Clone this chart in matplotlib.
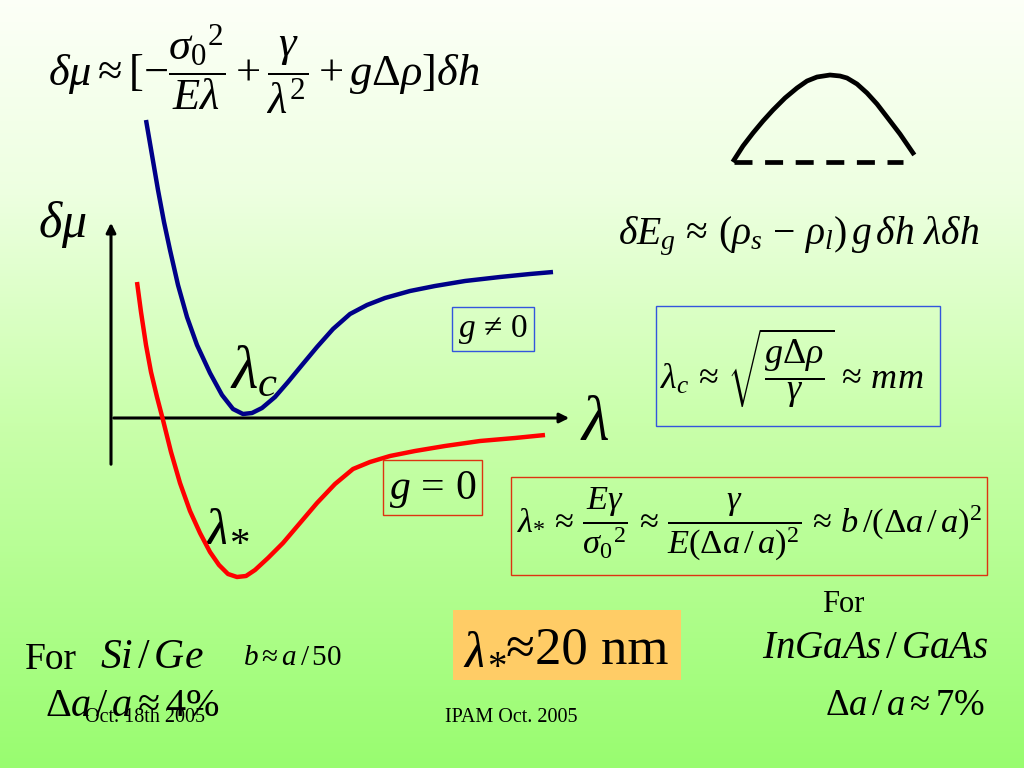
import numpy as np
import matplotlib
matplotlib.use("Agg")
import matplotlib.pyplot as plt
from matplotlib.colors import LinearSegmentedColormap
from matplotlib.patches import Rectangle, FancyArrowPatch

plt.rcParams['font.family'] = ['Liberation Serif', 'DejaVu Serif']
plt.rcParams['mathtext.fontset'] = 'custom'
plt.rcParams['mathtext.rm'] = 'Liberation Serif'
plt.rcParams['mathtext.it'] = 'Liberation Serif:italic'
plt.rcParams['mathtext.bf'] = 'Liberation Serif:bold'

# ---- data (slide pixel coordinates) ----
blue_x = [146, 152, 158, 164, 170, 178, 187, 197, 210, 222, 233, 243, 252, 262, 275, 288, 302, 317, 333, 350, 367, 385, 410, 435, 465, 500, 530, 553]
blue_y = [120, 155, 190, 222, 250, 285, 317, 345, 373, 395, 409, 414, 413, 408, 397, 382, 365, 347, 329, 314, 305, 298, 291, 286, 281, 277, 274, 272]
red_x = [137, 141, 146, 151, 157, 163, 171, 180, 190, 200, 210, 219, 228, 237, 246, 255, 268, 283, 300, 317, 335, 353, 370, 390, 415, 445, 480, 515, 545]
red_y = [282, 312, 345, 372, 397, 420, 452, 483, 511, 533, 552, 565, 574, 577, 576, 570, 558, 543, 523, 503, 484, 469, 462, 456, 451, 446, 441, 438, 435]
arch_x = [734, 743, 753, 763, 773, 785, 797, 807, 817, 830, 840, 847, 857, 867, 877, 887, 900, 913]
arch_y = [160, 146, 133, 121, 110, 98, 88, 81, 77, 75, 76, 78, 84, 93, 104, 117, 134, 153]
dash_x = [734, 903]
dash_y = [162, 162]
bg_stops = [(0.0, (0.99, 1.0, 0.97)), (0.25, (0.93, 1.0, 0.88)), (0.55, (0.79, 1.0, 0.67)),
            (1.0, (0.60, 0.99, 0.44))]

fig = plt.figure(figsize=(10.24, 7.68), dpi=100)
ax = fig.add_axes([0, 0, 1, 1])
ax.set_xlim(0, 1024)
ax.set_ylim(768, 0)
ax.axis('off')

cmap = LinearSegmentedColormap.from_list('bg', bg_stops)
grad = np.linspace(0, 1, 256).reshape(-1, 1)
ax.imshow(grad, cmap=cmap, extent=[0, 1024, 768, 0], aspect='auto', zorder=0)

# axes of the sketch
ax.add_patch(FancyArrowPatch((111, 467), (111, 220), arrowstyle='-|>', mutation_scale=14,
                             color='black', lw=2.2, zorder=3))
ax.add_patch(FancyArrowPatch((111, 418), (572, 418), arrowstyle='-|>', mutation_scale=14,
                             color='black', lw=2.2, zorder=3))

ax.plot(blue_x, blue_y, color='#000088', lw=3.2, solid_capstyle='butt', zorder=4)
ax.plot(red_x, red_y, color='#ff0000', lw=3.2, solid_capstyle='butt', zorder=4)

ax.plot(arch_x, arch_y, color='black', lw=3.4, zorder=4)
ax.plot(dash_x, dash_y, color='black', lw=3.4, dashes=(3.81, 2.67), zorder=4)

# formulas
ax.text(48, 69, r'$\delta\mu \approx [-\dfrac{{\sigma_0}^{2}}{E\lambda}+\dfrac{\gamma}{\lambda^{2}}+g\Delta\rho]\delta h$',
        fontsize=32, va='center', ha='left')
ax.text(38, 225, r'$\delta\mu$', fontsize=36, va='center', ha='left')
ax.text(580, 425, r'$\lambda$', fontsize=46, va='center', ha='left')
ax.text(230, 373, r'$\lambda_{c}$', fontsize=44, va='center', ha='left')
ax.text(203, 527, r'$\lambda_{*}$', fontsize=42, va='center', ha='left')

ax.add_patch(Rectangle((452, 307), 82, 44, fill=False, ec='#3355dd', lw=1.0, zorder=5))
ax.text(493, 330, r'$g \,\neq\, 0$', fontsize=24, va='center', ha='center', zorder=6)
ax.add_patch(Rectangle((383, 460), 99, 55, fill=False, ec='#dd3311', lw=1.0, zorder=5))
ax.text(433, 489, r'$g \,=\, 0$', fontsize=30, va='center', ha='center', zorder=6)

ax.text(618, 236, r'$\delta E_{g} \,\approx\, (\rho_{s} \,-\, \rho_{l})\, g\,\delta h\ \lambda\delta h$',
        fontsize=28.5, va='center', ha='left')

ax.add_patch(Rectangle((656, 306), 284, 120, fill=False, ec='#3355dd', lw=1.0, zorder=5))
ax.text(660, 368, r'$\lambda_{c} \,\approx\, \sqrt{\dfrac{g\Delta\rho}{\gamma}} \,\approx\, mm$',
        fontsize=26, va='center', ha='left', zorder=6)

ax.add_patch(Rectangle((511, 477), 476, 98, fill=False, ec='#dd3311', lw=1.0, zorder=5))
ax.text(517, 524, r'$\lambda_{*} \,\approx\, \dfrac{E\gamma}{{\sigma_{0}}^{2}} \,\approx\, \dfrac{\gamma}{E(\Delta a\,/\,a)^{2}} \,\approx\, b\,/(\Delta a\,/\,a)^{2}$',
        fontsize=24.8, va='center', ha='left', zorder=6)

ax.add_patch(Rectangle((453, 610), 228, 70, fc='#ffcc66', ec='none', zorder=5))
ax.text(461, 664, r'$\lambda_{\!*}$', fontsize=40, va='baseline', ha='left', zorder=6)
ax.text(668, 664, '\u224820 nm', fontsize=38, va='baseline', ha='right', zorder=6)

ax.text(25, 660, 'For', fontsize=27, va='center', ha='left')
ax.text(100, 658, r'$Si\,/\,Ge$', fontsize=30, va='center', ha='left')
ax.text(243, 658, r'$b \approx a\,/\,50$', fontsize=21, va='center', ha='left')
ax.text(45, 706, r'$\Delta a\,/\,a \approx 4\%$', fontsize=29, va='center', ha='left')
ax.text(85, 718, 'Oct. 18th 2005', fontsize=14.5, va='center', ha='left', zorder=6)
ax.text(445, 718, 'IPAM Oct. 2005', fontsize=14.5, va='center', ha='left')

ax.text(843, 604, 'For', fontsize=22, va='center', ha='center')
ax.text(762, 648, r'$InGaAs\,/\,GaAs$', fontsize=28, va='center', ha='left')
ax.text(825, 706, r'$\Delta a\,/\,a \approx 7\%$', fontsize=26.5, va='center', ha='left')

fig.savefig('out.png', dpi=100)
